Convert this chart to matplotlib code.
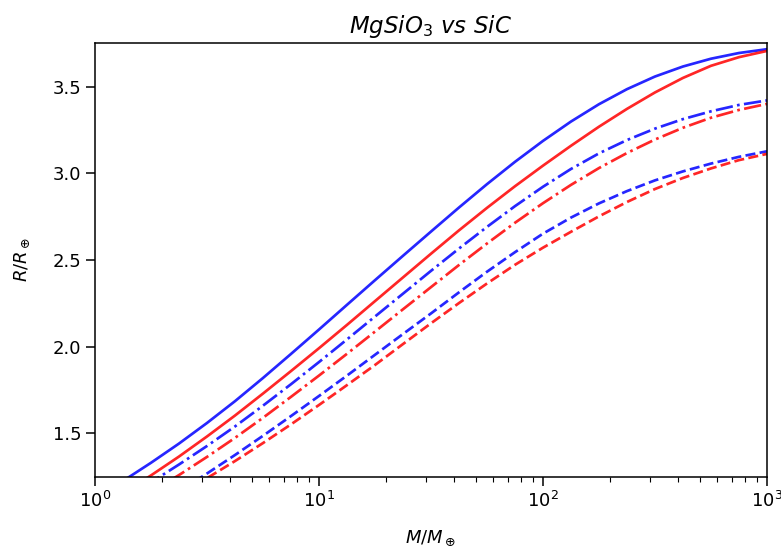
import numpy as np
import matplotlib
matplotlib.use('Agg')
import matplotlib.pyplot as plt

# planet mass in earth masses (8 steps per decade)
mass = [1, 1.334, 1.778, 2.371, 3.162, 4.217, 5.623, 7.499, 10,
        13.34, 17.78, 23.71, 31.62, 42.17, 56.23, 74.99, 100,
        133.4, 177.8, 237.1, 316.2, 421.7, 562.3, 749.9, 1000]

# radius curves (R / R_earth)
r_mgsio3_solid = [1.123, 1.223, 1.328, 1.439, 1.558, 1.684, 1.818, 1.957, 2.098,
                  2.241, 2.383, 2.524, 2.664, 2.803, 2.938, 3.067, 3.188,
                  3.300, 3.400, 3.487, 3.560, 3.618, 3.663, 3.696, 3.718]
r_sic_solid = [1.052, 1.151, 1.255, 1.364, 1.480, 1.601, 1.728, 1.858, 1.990,
               2.125, 2.262, 2.399, 2.536, 2.671, 2.801, 2.926, 3.045,
               3.160, 3.270, 3.373, 3.468, 3.552, 3.622, 3.672, 3.708]
r_mgsio3_dashdot = [1.025, 1.118, 1.215, 1.318, 1.425, 1.538, 1.658, 1.782, 1.910,
                    2.041, 2.173, 2.305, 2.437, 2.566, 2.691, 2.811, 2.923,
                    3.026, 3.116, 3.193, 3.259, 3.314, 3.359, 3.396, 3.422]
r_sic_dashdot = [0.975, 1.064, 1.158, 1.257, 1.362, 1.472, 1.588, 1.709, 1.832,
                 1.958, 2.086, 2.215, 2.343, 2.471, 2.595, 2.715, 2.828,
                 2.934, 3.031, 3.118, 3.196, 3.264, 3.322, 3.367, 3.402]
r_mgsio3_dashed = [0.889, 0.976, 1.068, 1.164, 1.266, 1.373, 1.484, 1.598, 1.714,
                   1.832, 1.952, 2.072, 2.191, 2.313, 2.432, 2.545, 2.652,
                   2.745, 2.827, 2.898, 2.960, 3.012, 3.057, 3.096, 3.128]
r_sic_dashed = [0.880, 0.970, 1.056, 1.145, 1.239, 1.338, 1.442, 1.550, 1.662,
                1.777, 1.893, 2.014, 2.134, 2.251, 2.364, 2.472, 2.571,
                2.663, 2.752, 2.835, 2.910, 2.974, 3.029, 3.077, 3.113]

fig = plt.figure(figsize=(7.81, 5.51), dpi=100)
ax = fig.add_axes([0.1216, 0.1343, 0.8604, 0.7877])

ax.plot(mass, r_mgsio3_solid, color='b', lw=1.95, ls='-', alpha=0.85)
ax.plot(mass, r_sic_solid, color='r', lw=1.95, ls='-', alpha=0.85)
ax.plot(mass, r_mgsio3_dashdot, color='b', lw=1.95, ls='-.', alpha=0.85)
ax.plot(mass, r_sic_dashdot, color='r', lw=1.95, ls='-.', alpha=0.85)
ax.plot(mass, r_mgsio3_dashed, color='b', lw=1.95, ls='--', alpha=0.85)
ax.plot(mass, r_sic_dashed, color='r', lw=1.95, ls='--', alpha=0.85)

ax.set_xscale('log')
ax.set_xlim(1, 1000)
ax.set_ylim(1.246, 3.754)
ax.set_yticks([1.5, 2.0, 2.5, 3.0, 3.5])
ax.tick_params(which='major', labelsize=13, length=6.3, width=1.1)
ax.tick_params(which='minor', length=3.6, width=0.8)
for s in ax.spines.values():
    s.set_linewidth(1.1)

ax.set_title(r'$MgSiO_3\ vs\ SiC$', fontsize=16.5, pad=7)
ax.set_xlabel(r'$M/M_\oplus$', fontsize=13, labelpad=13)
ax.set_ylabel(r'$R/R_\oplus$', fontsize=13, labelpad=15)

fig.savefig('out.png', dpi=100)
